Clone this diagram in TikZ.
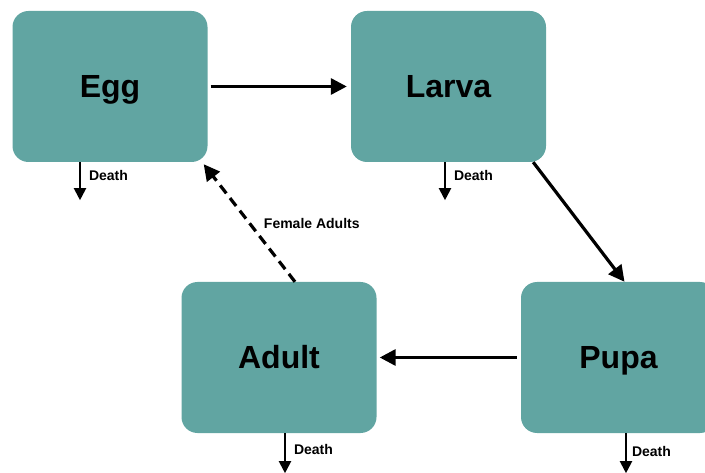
\documentclass[tikz,border=0pt]{standalone}
\usepackage{fontspec}
\setmainfont{Liberation Sans}
\usepackage{tikz}
\usetikzlibrary{arrows,arrows.meta,calc,positioning}
\definecolor{stagecol}{RGB}{97,165,162}
\tikzset{
  stage/.style={fill=stagecol, rounded corners=16pt, minimum width=195pt, minimum height=151pt, inner sep=0pt, text height=23pt, text depth=0pt, font=\fontsize{32}{36}\selectfont\bfseries},
  flow/.style={line width=3.2pt, -{Triangle[length=16pt,width=16pt]}},
  death/.style={line width=2pt, -{Triangle[length=12pt,width=12pt]}},
  smalllab/.style={inner sep=0pt, font=\fontsize{14}{16}\selectfont\bfseries}
}

\begin{document}
\begin{tikzpicture}[x=1pt,y=-1pt]
\clip (0,0) rectangle (705,473);
\node[stage] (egg) at (110,86.5) {Egg};
\node[stage] (larva) at (448.5,86.5) {Larva};
\node[stage] (adult) at (279,357.5) {Adult};
\node[stage] (pupa) at (618.5,357.5) {Pupa};
\draw[flow, shorten <=3pt, shorten >=4pt] (egg) -- (larva);
\draw[flow] ([xshift=-13pt]larva.south east) -- ([xshift=6pt]pupa.north);
\draw[flow, shorten <=4pt, shorten >=3pt] (pupa) -- (adult);
\draw[flow, dash pattern=on 10pt off 6pt] ([xshift=16pt]adult.north) -- node[smalllab, pos=0.5, anchor=west, xshift=13pt] {Female Adults} ([xshift=-4pt,yshift=-2pt]egg.south east);
\draw[death] ([xshift=-30pt]egg.south) -- node[smalllab, pos=0.34, right=8pt] {Death} ++(0,38) coordinate (eggdie);
\draw[death] ([xshift=-3.5pt]larva.south) -- node[smalllab, pos=0.34, right=8pt] {Death} ++(0,38) coordinate (larvadie);
\draw[death] ([xshift=6pt]adult.south) -- node[smalllab, pos=0.4, right=8pt] {Death} ++(0,40) coordinate (adultdie);
\draw[death] ([xshift=7.5pt]pupa.south) -- node[smalllab, pos=0.45, right=5pt] {Death} ++(0,40) coordinate (pupadie);
\end{tikzpicture}
\end{document}
